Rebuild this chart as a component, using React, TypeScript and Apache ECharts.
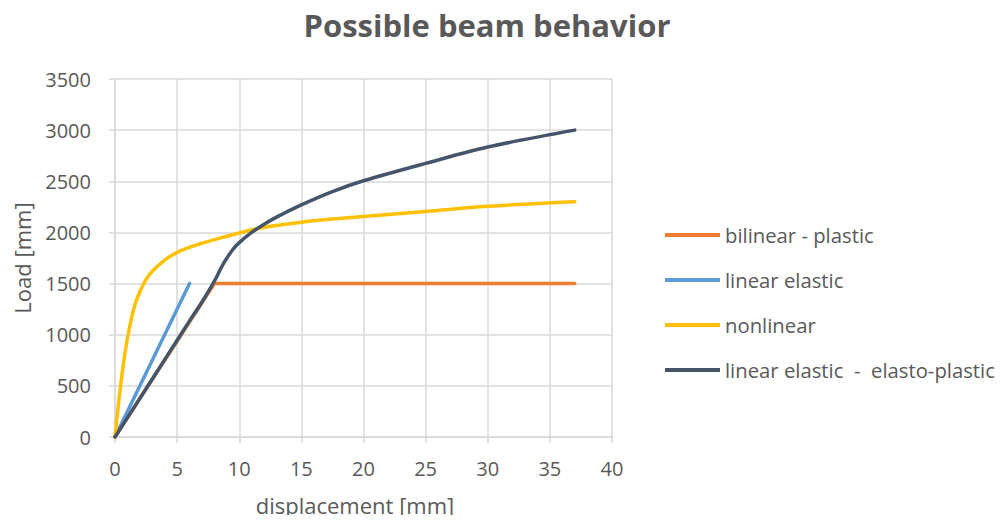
import React, { useEffect, useRef } from "react";
import * as echarts from "echarts";

const seriesNames = [
  "bilinear - plastic",
  "linear elastic",
  "nonlinear",
  "linear elastic  -  elasto-plastic",
];
const seriesColors = ["#ED7D31", "#5B9BD5", "#FFC000", "#44546A"];

const bilinearPlastic: [number, number][] = [
  [0, 0],
  [8, 1500],
  [37, 1500],
];
const linearElastic: [number, number][] = [
  [0, 0],
  [6, 1500],
];
const nonlinear: [number, number][] = [
  [0, 0],
  [0.4, 450],
  [0.8, 820],
  [1.2, 1090],
  [1.6, 1290],
  [2, 1420],
  [2.5, 1540],
  [3, 1620],
  [4, 1730],
  [5, 1805],
  [6, 1855],
  [7, 1895],
  [8, 1930],
  [10, 1995],
  [12, 2050],
  [15, 2100],
  [20, 2155],
  [25, 2205],
  [30, 2255],
  [37, 2300],
];
const elastoPlastic: [number, number][] = [
  [0, 0],
  [2, 378],
  [4, 756],
  [6, 1135],
  [7, 1320],
  [8, 1525],
  [8.75, 1700],
  [9.5, 1835],
  [10, 1900],
  [11, 2000],
  [12, 2080],
  [13, 2150],
  [15, 2270],
  [17.5, 2400],
  [20, 2505],
  [25, 2675],
  [30, 2835],
  [37, 3000],
];

const titleText = "Possible beam behavior";
const xAxisName = "displacement [mm]";
const yAxisName = "Load [mm]";

export default function App() {
  const ref = useRef<HTMLDivElement>(null);
  useEffect(() => {
    if (!ref.current) return;
    const chart = echarts.init(ref.current, null, { renderer: "svg" });
    const font = "'Open Sans', sans-serif";
    const textColor = "#595959";
    const gridColor = "#d9d9d9";
    const data = [bilinearPlastic, linearElastic, nonlinear, elastoPlastic];
    const smooth = [false, false, 0.4, 0.3];
    chart.setOption({
      animation: false,
      backgroundColor: "#ffffff",
      textStyle: { fontFamily: font },
      title: {
        text: titleText,
        left: 482,
        textAlign: "center",
        top: 4,
        textStyle: {
          fontFamily: font,
          fontSize: 31,
          fontWeight: "bold",
          color: textColor,
        },
      },
      grid: { left: 115, right: 396, top: 79, bottom: 86, containLabel: false },
      legend: {
        orient: "vertical",
        left: 665,
        top: 221,
        padding: 0,
        itemWidth: 55,
        itemHeight: 4,
        itemGap: 17,
        icon: "rect",
        data: seriesNames,
        textStyle: {
          fontFamily: font,
          fontSize: 20.3,
          color: textColor,
          lineHeight: 28,
        },
      },
      xAxis: {
        type: "value",
        min: 0,
        max: 40,
        interval: 5,
        name: xAxisName,
        nameLocation: "middle",
        nameGap: 57,
        nameTextStyle: {
          fontFamily: font,
          fontSize: 22,
          color: textColor,
          padding: [0, 17, 0, 0],
        },
        axisLine: { show: true, lineStyle: { color: gridColor, width: 1.5 } },
        axisTick: { show: true, length: 6, lineStyle: { color: gridColor, width: 1.5 } },
        axisLabel: { fontFamily: font, fontSize: 20, color: textColor, margin: 21 },
        splitLine: { show: true, lineStyle: { color: gridColor, width: 1.5 } },
      },
      yAxis: {
        type: "value",
        min: 0,
        max: 3500,
        interval: 500,
        name: yAxisName,
        nameLocation: "middle",
        nameGap: 82,
        nameTextStyle: { fontFamily: font, fontSize: 22, color: textColor },
        axisLine: { show: true, lineStyle: { color: gridColor, width: 1.5 } },
        axisTick: { show: true, length: 6, lineStyle: { color: gridColor, width: 1.5 } },
        axisLabel: {
          fontFamily: font,
          fontSize: 20,
          color: textColor,
          margin: 24,
          formatter: (v: number) => String(v),
        },
        splitLine: { show: true, lineStyle: { color: gridColor, width: 1.5 } },
      },
      series: seriesNames.map((name, i) => ({
        name,
        type: "line",
        data: data[i],
        smooth: smooth[i],
        symbol: "none",
        showSymbol: false,
        color: seriesColors[i],
        lineStyle: { color: seriesColors[i], width: 3.5, cap: "round", join: "round" },
      })),
    });
    return () => chart.dispose();
  }, []);
  return <div ref={ref} style={{ width: 1008, height: 523, margin: -8 }} />;
}
